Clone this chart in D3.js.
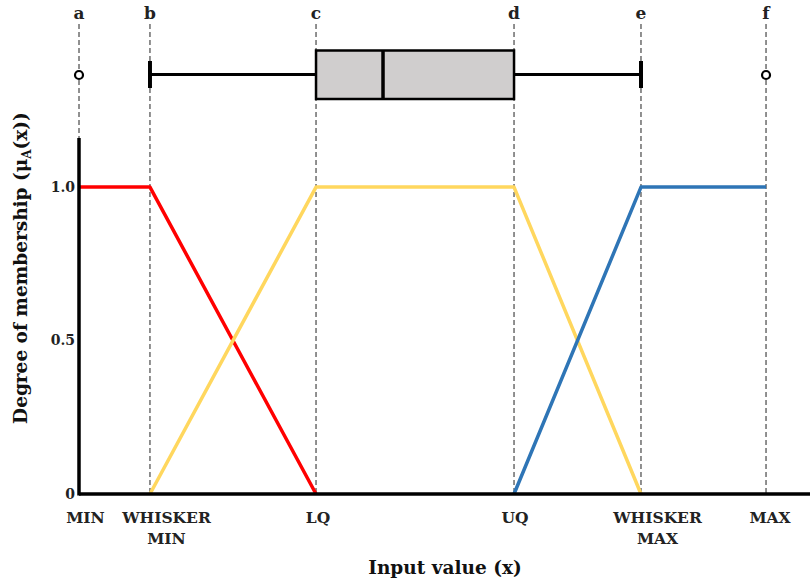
<!DOCTYPE html>
<html>
<head>
<meta charset="utf-8">
<script src="https://cdn.jsdelivr.net/npm/d3@7"></script>
<style>
  body { margin: 0; background: #fff; }
  svg { display: block; font-family: "DejaVu Serif", serif; }
</style>
</head>
<body>
<svg id="chart" width="810" height="585"></svg>
<script>
// ---- data ----
const pointLetters = ["a", "b", "c", "d", "e", "f"];
const pointValues = [0, 10.33, 34.5, 63.32, 81.8, 100];
const pointLabels = [["MIN"], ["WHISKER", "MIN"], ["LQ"], ["UQ"], ["WHISKER", "MAX"], ["MAX"]];
const medianValue = 44.25;
const yTicks = [0, 0.5, 1.0];
const yTickLabels = ["0", "0.5", "1.0"];
const lowMembership = [1, 1, 0];          // at a, b, c
const mediumMembership = [0, 1, 1, 0];    // at b, c, d, e
const highMembership = [0, 1, 1];         // at d, e, f
const seriesColors = ["#ff0000", "#ffd75e", "#2e75b6"];

// ---- layout ----
const labelShift = [6.5, 16.5, 2, 1, 16.5, 4]; // px offset of bottom labels
const svg = d3.select("#chart");
const x = d3.scaleLinear().domain([0, 106.4]).range([79, 810]);
const y = d3.scaleLinear().domain([0, 1.16]).range([494, 138]);

// dashed guide lines
svg.append("g").selectAll("line").data(pointValues).join("line")
  .attr("x1", d => x(d)).attr("x2", d => x(d))
  .attr("y1", 24).attr("y2", (d, i) => i === 0 ? y(1.16) : y(0))
  .attr("stroke", "#222").attr("stroke-width", 1).attr("stroke-dasharray", "5,3");

// letters
svg.append("g").selectAll("text").data(pointLetters).join("text")
  .attr("x", (d, i) => x(pointValues[i])).attr("y", 19)
  .attr("text-anchor", "middle").attr("font-weight", "bold").attr("font-size", 17)
  .attr("fill", "#222")
  .text(d => d);

// boxplot
const by = 74.5;
const bp = svg.append("g");
bp.append("line").attr("x1", x(pointValues[1])).attr("x2", x(pointValues[2]))
  .attr("y1", by).attr("y2", by).attr("stroke", "#000").attr("stroke-width", 3);
bp.append("line").attr("x1", x(pointValues[3])).attr("x2", x(pointValues[4]))
  .attr("y1", by).attr("y2", by).attr("stroke", "#000").attr("stroke-width", 3);
[pointValues[1], pointValues[4]].forEach(v => {
  bp.append("line").attr("x1", x(v)).attr("x2", x(v)).attr("y1", 61).attr("y2", 88)
    .attr("stroke", "#000").attr("stroke-width", 4);
});
bp.append("rect").attr("x", x(pointValues[2])).attr("y", 50.5)
  .attr("width", x(pointValues[3]) - x(pointValues[2])).attr("height", 48.5)
  .attr("fill", "#d0cece").attr("stroke", "#000").attr("stroke-width", 2.5);
bp.append("line").attr("x1", x(medianValue)).attr("x2", x(medianValue))
  .attr("y1", 50.5).attr("y2", 99).attr("stroke", "#000").attr("stroke-width", 3.5);
[pointValues[0], pointValues[5]].forEach(v => {
  bp.append("circle").attr("cx", x(v)).attr("cy", 75).attr("r", 4)
    .attr("fill", "#fff").attr("stroke", "#000").attr("stroke-width", 2.2);
});

// membership lines
const line = d3.line().x(d => x(d[0])).y(d => y(d[1]));
const series = [
  pointValues.slice(0, 3).map((v, i) => [v, lowMembership[i]]),
  pointValues.slice(1, 5).map((v, i) => [v, mediumMembership[i]]),
  pointValues.slice(3, 6).map((v, i) => [v, highMembership[i]])
];
svg.append("g").selectAll("path").data(series).join("path")
  .attr("d", line).attr("fill", "none")
  .attr("stroke", (d, i) => seriesColors[i]).attr("stroke-width", 3.5)
  .attr("stroke-linejoin", "round");

// axes
svg.append("line").attr("x1", x(0)).attr("x2", x(0)).attr("y1", y(1.16)).attr("y2", y(0) + 1.5)
  .attr("stroke", "#000").attr("stroke-width", 3.5);
svg.append("line").attr("x1", x(0)).attr("x2", x(106.4)).attr("y1", y(0)).attr("y2", y(0))
  .attr("stroke", "#000").attr("stroke-width", 3.5);

// y tick labels
svg.append("g").selectAll("text").data(yTicks).join("text")
  .attr("x", 75).attr("y", d => y(d)).attr("dy", "0.35em")
  .attr("text-anchor", "end").attr("font-weight", "bold").attr("font-size", 14)
  .attr("fill", "#222")
  .text((d, i) => yTickLabels[i]);

// x category labels
const lab = svg.append("g").selectAll("text").data(pointLabels).join("text")
  .attr("x", (d, i) => x(pointValues[i]) + labelShift[i]).attr("y", 523)
  .attr("text-anchor", "middle").attr("font-weight", "bold").attr("font-size", 15.5)
  .attr("fill", "#222");
lab.selectAll("tspan").data(d => d).join("tspan")
  .attr("x", function() { return d3.select(this.parentNode).attr("x"); })
  .attr("dy", (d, i) => i === 0 ? 0 : 21)
  .text(d => d);

// axis titles
svg.append("text").attr("x", 445).attr("y", 574).attr("text-anchor", "middle")
  .attr("font-weight", "bold").attr("font-size", 18.5).attr("fill", "#111")
  .text("Input value (x)");
const yl = svg.append("text").attr("transform", "translate(27,268) rotate(-90)")
  .attr("text-anchor", "middle").attr("font-weight", "bold").attr("font-size", 18.5)
  .attr("fill", "#111");
yl.append("tspan").text("Degree of membership (μ");
yl.append("tspan").attr("font-size", 12).attr("dy", 4).text("A");
yl.append("tspan").attr("dy", -4).text("(x))");
</script>
</body>
</html>
